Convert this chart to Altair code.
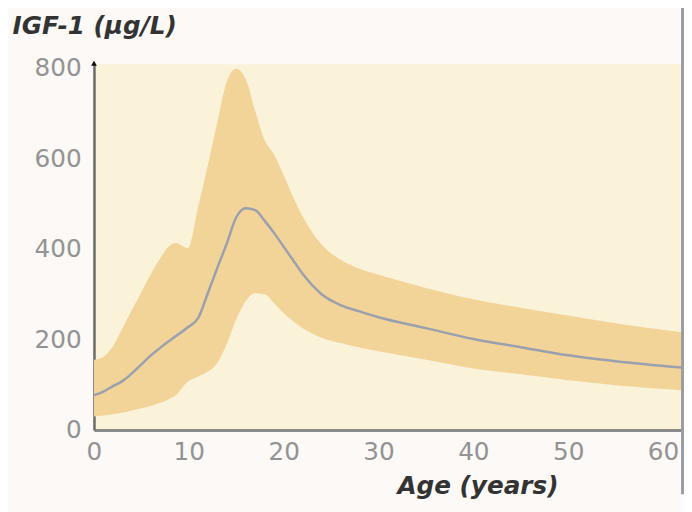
import altair as alt
import pandas as pd

# Age (years)
ages = [0, 1, 2, 3, 4, 5, 6, 7, 7.8, 8.6, 9.9, 11, 12, 13, 14, 15, 16, 17, 18, 19,
        20, 21, 22, 24, 26, 28, 30, 35, 40, 45, 50, 55, 62]
# IGF-1 (ug/L) reference band upper limit
upper = [155, 162, 185, 225, 265, 305, 345, 380, 404, 413, 402, 495, 585, 680, 770, 798,
         775, 705, 640, 608, 563, 515, 472, 410, 376, 356, 343, 314, 289, 270, 253, 236, 216]
# median
median = [77, 85, 97, 108, 125, 145, 165, 182, 195, 207, 227, 248, 302, 358, 412, 470,
          490, 486, 462, 435, 405, 375, 345, 300, 276, 262, 249, 225, 201, 183, 165, 152, 138]
# lower limit
lower = [30, 32, 35, 38, 43, 48, 53, 60, 67, 76, 107, 118, 129, 148, 190, 245,
         285, 302, 300, 280, 258, 240, 225, 204, 192, 182, 174, 155, 136, 123, 110, 99, 88]

x_ticks = [0, 10, 20, 30, 40, 50, 60]
y_ticks = [0, 200, 400, 600, 800]

df = pd.DataFrame({"age": ages, "upper": upper, "median": median, "lower": lower})

LABEL_FONT = "DejaVu Sans"

x_enc = alt.X(
    "age:Q",
    scale=alt.Scale(domain=[0, 62], nice=False, zero=False),
    axis=alt.Axis(
        values=x_ticks, title="Age (years)", ticks=False, grid=False,
        domainColor="#8a8a8a", domainWidth=3,
        labelFont=LABEL_FONT, labelFontSize=25, labelColor="#939393", labelPadding=10,
        labelFlush=False,
        titleFont=LABEL_FONT, titleFontSize=25, titleFontStyle="italic", titleFontWeight="bold",
        titleColor="#333333", titleX=388, titleY=64, titleAlign="center", titleBaseline="alphabetic",
    ),
)

y_scale = alt.Scale(domain=[0, 808], nice=False, zero=True)
y_axis = alt.Axis(
    values=y_ticks, title="IGF-1 (μg/L)", ticks=False, grid=False,
    domainColor="#6a6a6a", domainWidth=2.5,
    labelFont=LABEL_FONT, labelFontSize=25, labelColor="#939393", labelPadding=13,
    titleFont=LABEL_FONT, titleFontSize=25, titleFontStyle="italic", titleFontWeight="bold",
    titleColor="#333333", titleAngle=0, titleAlign="left", titleBaseline="alphabetic",
    titleX=-83, titleY=-31,
)

base = alt.Chart(df).encode(x=x_enc)

band = base.mark_area(color="#f3d498", interpolate="monotone").encode(
    y=alt.Y("upper:Q", scale=y_scale, axis=y_axis),
    y2="lower:Q",
)

line = base.mark_line(color="#9aa0ae", strokeWidth=2.5, interpolate="monotone").encode(
    y=alt.Y("median:Q", scale=y_scale)
)

arrow = alt.Chart(pd.DataFrame({"age": [0], "v": [808]})).mark_point(
    shape="triangle-up", filled=True, color="#111111", size=35, opacity=1, yOffset=-1
).encode(x=alt.X("age:Q", scale=alt.Scale(domain=[0, 62], nice=False)),
         y=alt.Y("v:Q", scale=y_scale))

edge = alt.Chart(pd.DataFrame({"k": [0]})).mark_rule(color="#9c9ca4", strokeWidth=4).encode(
    x=alt.value(596), y=alt.value(-62), y2=alt.value(435)
)

chart = alt.layer(band, line, arrow, edge).properties(
    width=595, height=370,
    autosize=alt.AutoSizeParams(type="none"),
    padding={"left": 87, "top": 54, "right": 2, "bottom": 80},
    background="#fcf9f6",
).configure_view(fill="#faf3da", strokeWidth=0)

chart.save("out.html", embed_options={"renderer": "svg", "actions": False})
